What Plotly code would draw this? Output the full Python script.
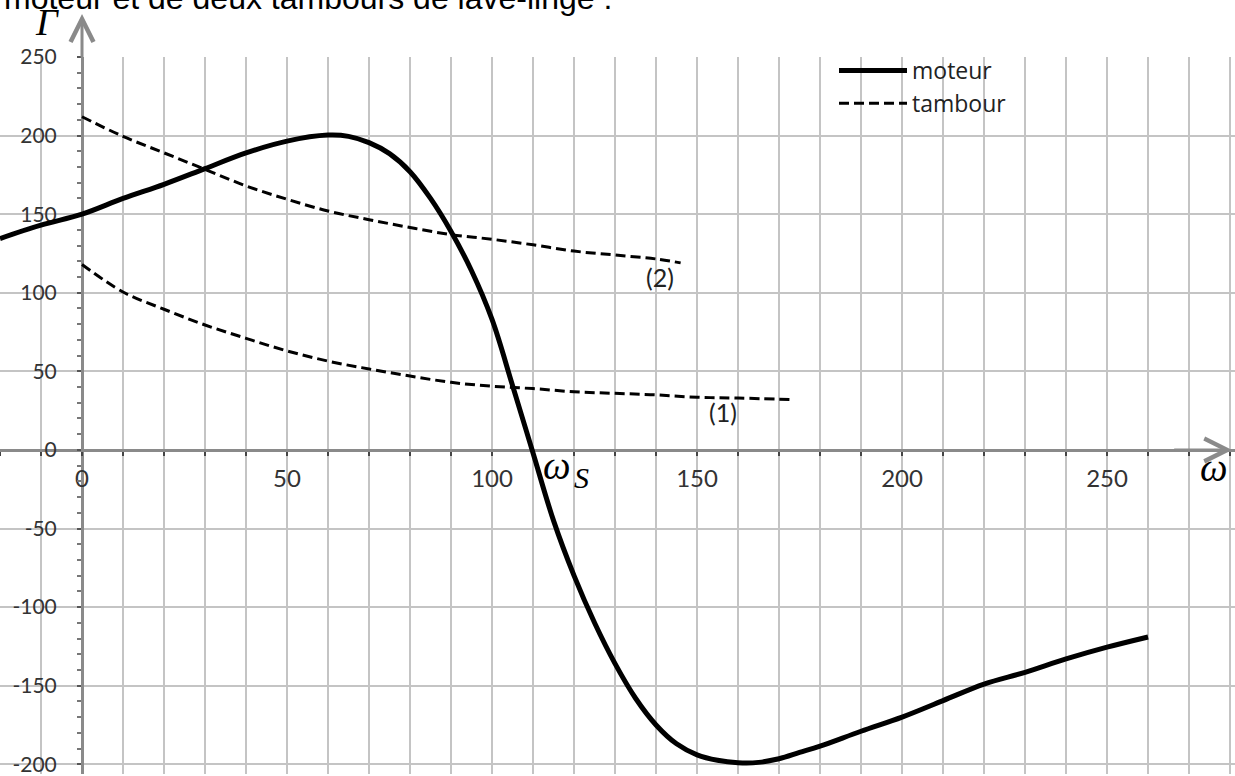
import plotly.graph_objects as go

# ---------------- data ----------------
moteur_w = [-20, -10, 0, 10, 20, 30, 40, 50, 60, 65, 70, 75, 80, 85, 90, 95, 100, 105, 110, 115,
            120, 125, 130, 135, 140, 145, 150, 155, 160, 165, 170, 175, 180, 190, 200, 210, 220,
            230, 240, 250, 260]
moteur_g = [134.5, 143, 150, 160, 169, 179, 189, 196.5, 200.3, 199.5, 195.5, 188.5, 177, 160, 139,
            114, 83, 41, -2, -45, -80, -110, -136, -158, -175, -187, -194, -197.5, -199, -198.8,
            -196.5, -192.5, -188.5, -179, -170, -159.5, -149, -141.5, -133, -125.5, -119]

tambour2_w = [0, 10, 20, 30, 40, 50, 60, 70, 80, 90, 100, 110, 120, 130, 140, 146]
tambour2_g = [212, 199.5, 189, 178.5, 168, 159.5, 152, 146.5, 141.5, 137, 134, 130.5, 126.5,
              124, 121.5, 119]

tambour1_w = [0, 10, 20, 30, 40, 50, 60, 70, 80, 90, 100, 110, 120, 130, 140, 150, 160, 173]
tambour1_g = [118, 100.5, 89.5, 79.5, 71, 63, 56.5, 51.5, 47, 43, 40.5, 39, 37, 36, 35, 33.5,
              33, 32]

x_label_vals = [0, 50, 100, 150, 200, 250]
x_label_text = ["0", "50", "100", "150", "200", "250"]
y_label_vals = [-200, -150, -100, -50, 0, 50, 100, 150, 200, 250]
y_label_text = ["-200", "-150", "-100", "-50", "0", "50", "100", "150", "200", "250"]

series_names = ["moteur", "tambour"]
curve_labels = ["(1)", "(2)"]
axis_names = ["Γ", "ω", "ω", "S"]
title_text = "moteur et de deux tambours de lave-linge :"

# ---------------- layout constants ----------------
W, H = 1235, 776
X_RANGE = [-20, 281.2]
Y_RANGE = [-206.2, 250]
TOP = 57
PLOT_H = H - TOP


def py_to_paper(py):
    return (H - py) / PLOT_H


fig = go.Figure()

fig.add_trace(go.Scatter(
    x=moteur_w, y=moteur_g, mode="lines", name=series_names[0],
    line=dict(color="black", width=5, shape="spline", smoothing=1.0),
))
fig.add_trace(go.Scatter(
    x=tambour2_w, y=tambour2_g, mode="lines", name=series_names[1],
    line=dict(color="black", width=3, dash="10px,5px", shape="spline", smoothing=1.0),
))
fig.add_trace(go.Scatter(
    x=tambour1_w, y=tambour1_g, mode="lines", name=series_names[1], showlegend=False,
    line=dict(color="black", width=3, dash="10px,5px", shape="spline", smoothing=1.0),
))

axis_col = "#8a8a8a"
grid_col = "#c4c4c4"

fig.update_layout(
    width=W, height=H,
    margin=dict(l=0, r=0, t=TOP, b=0, pad=0),
    paper_bgcolor="white", plot_bgcolor="white",
    xaxis=dict(
        range=X_RANGE, anchor="free",
        position=(0 - Y_RANGE[0]) / (Y_RANGE[1] - Y_RANGE[0]),
        tickmode="array", tickvals=x_label_vals, ticktext=x_label_text,
        showgrid=True, gridcolor=grid_col, gridwidth=2,
        minor=dict(dtick=10, tick0=0, showgrid=True, gridcolor=grid_col, gridwidth=2,
                   ticks="outside", ticklen=4, tickwidth=2, tickcolor="#444444"),
        zeroline=False, showline=True, linecolor=axis_col, linewidth=3,
        ticks="outside", ticklen=4, tickwidth=2, tickcolor="#444444",
        tickfont=dict(family="Lato", size=24, color="#333333"),
        ticklabelstandoff=2, ticklabeloverflow="allow",
        layer="below traces",
    ),
    yaxis=dict(
        range=Y_RANGE, anchor="free",
        position=(0 - X_RANGE[0]) / (X_RANGE[1] - X_RANGE[0]),
        tickmode="array", tickvals=y_label_vals, ticktext=y_label_text,
        showgrid=True, gridcolor=grid_col, gridwidth=2,
        zeroline=False, showline=True, linecolor=axis_col, linewidth=3,
        ticks="outside", ticklen=4, tickwidth=2, tickcolor="#555555",
        minor=dict(dtick=10, tick0=0, ticks="outside", ticklen=4, tickwidth=2,
                   tickcolor="#777777", showgrid=False),
        tickfont=dict(family="Lato", size=21, color="#333333"),
        ticklabelstandoff=16, ticklabeloverflow="allow",
        layer="below traces",
    ),
    showlegend=True,
    legend=dict(
        x=834 / W, y=py_to_paper(49), xanchor="left", yanchor="top",
        font=dict(family="Open Sans", size=23, color="#222222"),
        bgcolor="rgba(0,0,0,0)", tracegroupgap=0, itemwidth=68,
    ),
)

annotations = [
    # axis arrows
    dict(x=280.5, y=0, ax=266, ay=0, xref="x", yref="y", axref="x", ayref="y",
         showarrow=True, arrowhead=5, arrowsize=1.5, arrowwidth=3, arrowcolor=axis_col, text=""),
    dict(x=0, y=py_to_paper(14), xref="x", yref="paper", ax=0, ay=45,
         showarrow=True, arrowhead=5, arrowsize=1.5, arrowwidth=3, arrowcolor=axis_col, text=""),
    # axis names
    dict(x=47 / W, y=py_to_paper(22), xref="paper", yref="paper", xanchor="center",
         yanchor="middle", text="<i>" + axis_names[0] + "</i>", showarrow=False,
         font=dict(family="Liberation Serif", size=38, color="black")),
    dict(x=276, y=-11.5, xref="x", yref="y", text="<i>" + axis_names[1] + "</i>", showarrow=False,
         font=dict(family="Liberation Serif", size=39, color="black")),
    dict(x=115.9, y=-10.2, xref="x", yref="y", xanchor="center", yanchor="middle",
         text="<i>" + axis_names[2] + "</i>", showarrow=False,
         font=dict(family="Liberation Serif", size=39, color="black")),
    dict(x=121.8, y=-17.5, xref="x", yref="y", xanchor="center", yanchor="middle",
         text="<i>" + axis_names[3] + "</i>", showarrow=False,
         font=dict(family="Liberation Serif", size=30, color="black")),
    # curve labels
    dict(x=156.4, y=24, xref="x", yref="y", text=curve_labels[0], showarrow=False,
         font=dict(family="Lato", size=25, color="#222222")),
    dict(x=141, y=110, xref="x", yref="y", text=curve_labels[1], showarrow=False,
         font=dict(family="Lato", size=25, color="#222222")),
    # cut-off line of text above the chart
    dict(x=0, y=1, xref="paper", yref="paper", xanchor="left", yanchor="bottom", yshift=39,
         xshift=2, text=title_text, showarrow=False,
         font=dict(family="Liberation Sans", size=32, color="black")),
]
fig.update_layout(annotations=annotations)

fig.write_html(
    "out.html",
    config={"displayModeBar": False},
    post_script="document.body.style.margin='0';document.body.style.overflow='hidden';",
)
